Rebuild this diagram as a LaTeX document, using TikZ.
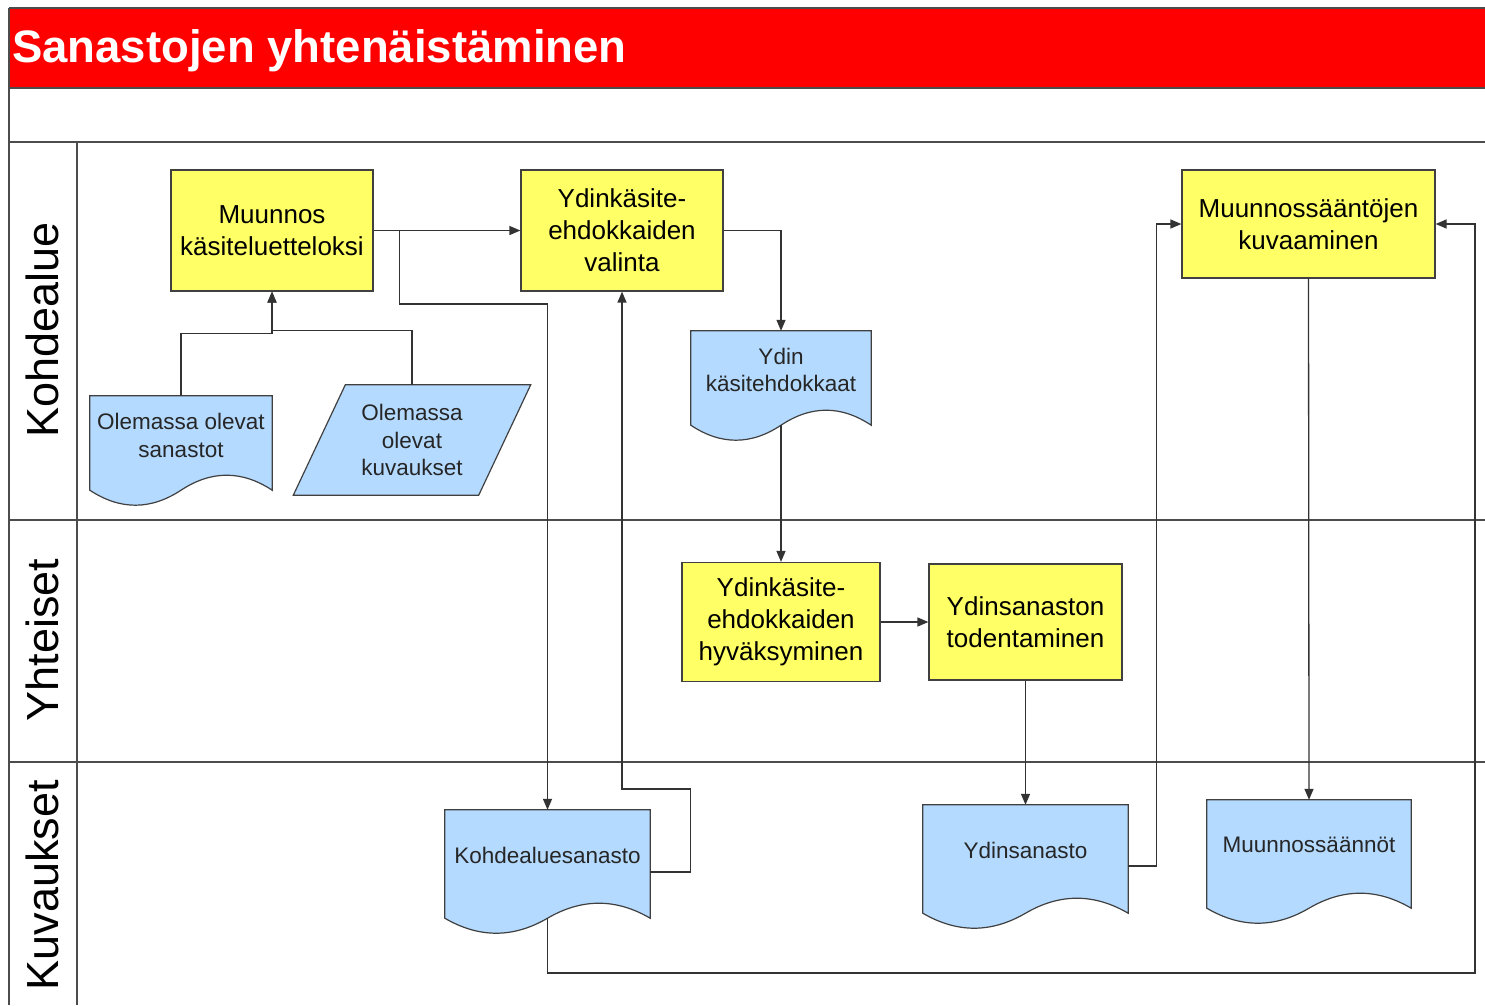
\documentclass[tikz,border=0pt]{standalone}
\usepackage{fontspec}
\setmainfont{Liberation Sans}
\usetikzlibrary{arrows.meta,calc}
\definecolor{boxyellow}{HTML}{FFFF66}
\definecolor{docblue}{HTML}{B4DAFF}
\definecolor{titlered}{HTML}{FF0000}
\definecolor{edge}{HTML}{404040}

% document symbol: straight top and sides, wavy bottom edge
\newcommand{\docshapedraw}[1]{%
  \path[docshape] (#1.north west) -- (#1.north east) -- (#1.south east)
    .. controls ($(#1.south east)!0.1667!(#1.south west)+(0,-20)$)
            and ($(#1.south east)!0.3333!(#1.south west)+(0,-20)$)
    .. ($(#1.south east)!0.5!(#1.south west)$)
    .. controls ($(#1.south east)!0.6667!(#1.south west)+(0,20)$)
            and ($(#1.south east)!0.8333!(#1.south west)+(0,20)$)
    .. (#1.south west) -- cycle;}

\begin{document}
\begin{tikzpicture}[x=1pt,y=-1pt,
  procbox/.style={draw=edge, line width=1.2pt, fill=boxyellow, align=center,
    inner sep=0pt, font=\fontsize{26}{32}\selectfont},
  docarea/.style={inner sep=0pt},
  docshape/.style={draw=edge, line width=1.2pt, fill=docblue},
  doctext/.style={align=center, font=\fontsize{22.5}{27.5}\selectfont, text=black!85},
  conn/.style={draw=black!80, line width=1.3pt},
  arr/.style={conn, -{Triangle[length=11pt,width=9pt]}},
  lane/.style={draw=black!70, line width=1.5pt},
  lanelabel/.style={rotate=90, font=\fontsize{45}{45}\selectfont}
]
\useasboundingbox (0,0) rectangle (1485,1005);
\fill[white] (0,0) rectangle (1485,1005);

% title bar and swimlane frame
\fill[titlered] (9,8) rectangle (1485,88);
\node[anchor=base west, inner sep=0pt, text=white,
      font=\bfseries\fontsize{45.5}{45.5}\selectfont] (title) at (12,62) {Sanastojen yhtenäistäminen};
\draw[lane] (9,8) -- (1485,8);
\draw[lane] (9,88) -- (1485,88);
\draw[lane] (9,142) -- (1485,142);
\draw[lane] (9,520) -- (1485,520);
\draw[lane] (9,762) -- (1485,762);
\draw[lane] (9,8) -- (9,1005);
\draw[lane] (77,142) -- (77,1005);

\node[lanelabel] (lane1) at (42,330) {Kohdealue};
\node[lanelabel] (lane2) at (42,640) {Yhteiset};
\node[lanelabel] (lane3) at (42,885) {Kuvaukset};

% process steps
\node[procbox, minimum width=202pt, minimum height=121pt] (A) at (272,230.5) {Muunnos\\käsiteluetteloksi};
\node[procbox, minimum width=202pt, minimum height=121pt] (B) at (622,230.5) {Ydinkäsite-\\ehdokkaiden\\valinta};
\node[procbox, minimum width=253pt, minimum height=108pt] (C) at (1308.5,224) {Muunnossääntöjen\\kuvaaminen};
\node[procbox, minimum width=198pt, minimum height=119pt] (D) at (781,622) {Ydinkäsite-\\ehdokkaiden\\hyväksyminen};
\node[procbox, minimum width=193pt, minimum height=116pt] (E) at (1025.5,622) {Ydinsanaston\\todentaminen};

% documents
\node[docarea, minimum width=182pt, minimum height=94pt] (s1) at (181,443) {};
\docshapedraw{s1}
\node[doctext] (s1t) at ($(s1.center)+(0,-7.5)$) {Olemassa olevat\\sanastot};

\node[docarea, minimum width=180pt, minimum height=94pt] (ydk) at (781,378) {};
\docshapedraw{ydk}
\node[doctext] (ydkt) at ($(ydk.center)+(0,-8)$) {Ydin\\käsitehdokkaat};

\node[docarea, minimum width=205pt, minimum height=108pt] (kds) at (547.5,864) {};
\docshapedraw{kds}
\node[doctext] (kdst) at ($(kds.center)+(0,-9)$) {Kohdealuesanasto};

\node[docarea, minimum width=205pt, minimum height=108pt] (ys) at (1025.5,859) {};
\docshapedraw{ys}
\node[doctext] (yst) at ($(ys.center)+(0,-9)$) {Ydinsanasto};

\node[docarea, minimum width=204pt, minimum height=108pt] (ms) at (1309,854) {};
\docshapedraw{ms}
\node[doctext] (mst) at ($(ms.center)+(0,-9)$) {Muunnossäännöt};

% data (parallelogram)
\node[docarea, minimum width=185pt, minimum height=110pt] (kuv) at (412,440) {};
\path[docshape] ($(kuv.north west)+(26,0)$) -- ($(kuv.north east)+(26,0)$)
  -- ($(kuv.south east)+(-26,0)$) -- ($(kuv.south west)+(-26,0)$) -- cycle;
\node[doctext] (kuvt) at (kuv.center) {Olemassa\\olevat\\kuvaukset};

% connectors
\draw[arr] (A.east) -- (B.west);
\draw[arr] (A.east) -- ++(26,0) -- ++(0,73.5) -| (kds.north);
\draw[arr] (s1.north) -- ++(0,-62) -| (A.south);
\draw[arr] (kuv.north) -- ++(0,-54) -| (A.south);
\draw[arr] (B.east) -| (ydk.north);
\draw[arr] (ydk.south) -- (D.north);
\draw[arr] (D.east) -- (E.west);
\draw[arr] (E.south) -- (ys.north);
\draw[arr] ([yshift=-8pt]kds.east) -- ++(40,0) -- ++(0,-83) -| (B.south);
\draw[arr] ([yshift=-7pt]ys.east) -- ++(28,0) |- (C.west);
\draw[arr] (C.south) -- (ms.north);
\coordinate (loopcorner) at (1475,973);
\draw[arr] (kds.south) |- (loopcorner) |- (C.east);
\end{tikzpicture}
\end{document}
